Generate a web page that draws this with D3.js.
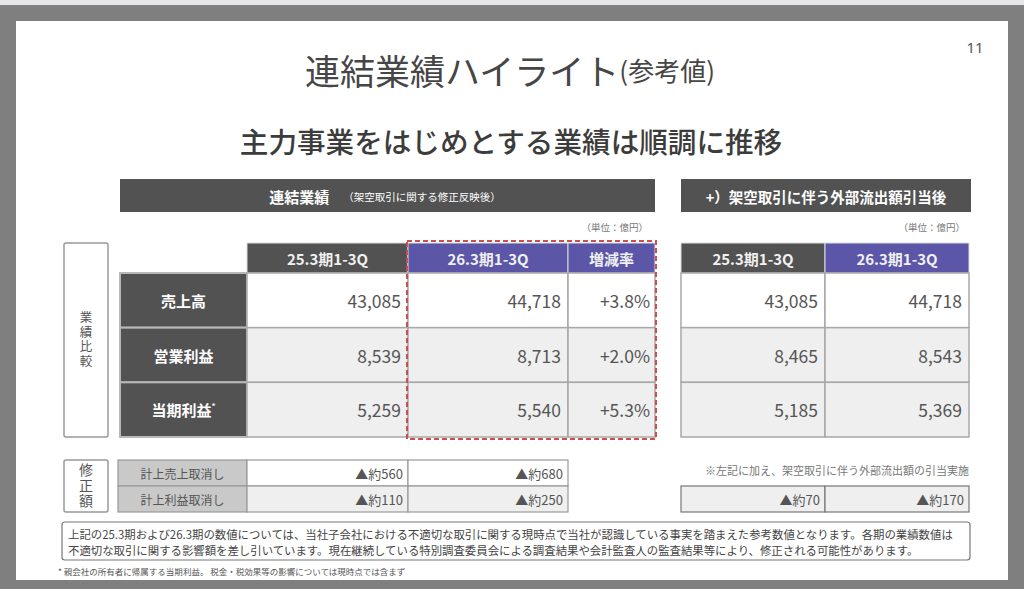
<!DOCTYPE html>
<html>
<head>
<meta charset="utf-8">
<script src="https://cdn.jsdelivr.net/npm/d3@7"></script>
<style>
  body { margin: 0; background: #7f7f7f; overflow: hidden; }
  svg { display: block; font-family: "Noto Sans CJK JP", "Noto Sans", sans-serif; }
</style>
</head>
<body>
<svg id="chart"></svg>
<script>
// data (単位: 億円)
const metrics = ["売上高", "営業利益", "当期利益"];
const periods = ["25.3期1-3Q", "26.3期1-3Q"];
const rateLabel = "増減率";
const consolidated25 = [43085, 8539, 5259];
const consolidated26 = [44718, 8713, 5540];
const changeRate = [3.8, 2.0, 5.3];
const afterProvision25 = [43085, 8465, 5185];
const afterProvision26 = [44718, 8543, 5369];
const adjLabels = ["計上売上取消し", "計上利益取消し"];
const adjust25 = [560, 110];
const adjust26 = [680, 250];
const provision = [70, 170];

const W = 1024, H = 589;
const svg = d3.select("#chart").attr("width", W).attr("height", H);

const dark = "#525252", purple = "#5b56a8", grayRow = "#efefef", line = "#a8a8a8", txt = "#555";
const fmt = d3.format(",");
const fmtRate = v => "+" + d3.format(".1f")(v) + "%";

//frame around the slide
svg.append("rect").attr("width", W).attr("height", H).attr("fill", "#7f7f7f");
svg.append("rect").attr("width", W).attr("height", 5).attr("fill", "#e6e6ea");
svg.append("rect").attr("x", 16).attr("y", 21).attr("width", 992).attr("height", 559).attr("fill", "#fff");

// titles
svg.append("text").attr("x", 975).attr("y", 47).attr("text-anchor", "middle")
    .attr("dominant-baseline", "central").attr("font-family", "'Noto Sans', sans-serif")
    .attr("font-size", 15).attr("fill", txt).text("11");

const title = svg.append("text").attr("x", 510).attr("y", 69).attr("text-anchor", "middle")
    .attr("dominant-baseline", "central").attr("fill", "#464646").attr("font-weight", 400);
title.append("tspan").attr("font-size", 35).text("連結業績ハイライト");
title.append("tspan").attr("font-size", 26).text("(参考値)");

svg.append("text").attr("x", 511).attr("y", 140).attr("text-anchor", "middle")
    .attr("dominant-baseline", "central").attr("font-size", 28.6).attr("font-weight", 500)
    .attr("fill", "#3c3c3c").text("主力事業をはじめとする業績は順調に推移");

// helper for one cell
function cell(g, x, y, w, h, fill, label, opts) {
    opts = opts || {};
    g.append("rect").attr("x", x).attr("y", y).attr("width", w).attr("height", h)
        .attr("fill", fill).attr("stroke", opts.stroke || line).attr("stroke-width", opts.sw || 1.5);
    if (label == null) return;
    const t = g.append("text")
        .attr("x", opts.align === "end" ? x + w - (opts.pad || 7) : x + w / 2)
        .attr("y", y + h / 2 + (opts.dy || 0))
        .attr("text-anchor", opts.align === "end" ? "end" : "middle")
        .attr("dominant-baseline", "central")
        .attr("font-size", opts.size || 17.5)
        .attr("font-weight", opts.weight || 400)
        .attr("fill", opts.color || txt);
    t.text(label);
    return t;
}

// column scales
const leftCols = ["label", ...periods, rateLabel];
const leftW = [127, 161, 160, 87];
const leftEdge = [120, ...d3.cumsum(leftW).map(d => 120 + d)];
const lx = d3.scaleOrdinal().domain(leftCols).range(leftEdge);
const lw = d3.scaleOrdinal().domain(leftCols).range(leftW);
const rx = d3.scaleBand().domain(periods).range([681, 969]);

const headTop = 243, headH = 30;
const rowY = d3.scaleBand().domain(metrics).range([headTop + headH, 437]);
const rowFill = (d, i) => i === 0 ? "#fff" : grayRow;

// header bars
const gHead = svg.append("g");
gHead.append("rect").attr("x", lx("label")).attr("y", 179).attr("width", lx(rateLabel) + lw(rateLabel) - lx("label"))
    .attr("height", 33).attr("fill", dark);
const ht = gHead.append("text").attr("x", 385).attr("y", 196).attr("text-anchor", "middle")
    .attr("dominant-baseline", "central").attr("fill", "#fff");
ht.append("tspan").attr("font-size", 15).attr("font-weight", 700).text("連結業績");
ht.append("tspan").attr("dx", 14).attr("font-size", 10.5).text("（架空取引に関する修正反映後）");

gHead.append("rect").attr("x", 681).attr("y", 179).attr("width", 290).attr("height", 33).attr("fill", dark);
gHead.append("text").attr("x", 826).attr("y", 196).attr("text-anchor", "middle")
    .attr("dominant-baseline", "central").attr("fill", "#fff").attr("font-size", 14.5).attr("font-weight", 700)
    .text("+）架空取引に伴う外部流出額引当後");

[648, 965].forEach(x => svg.append("text").attr("x", x).attr("y", 227).attr("text-anchor", "end")
    .attr("dominant-baseline", "central").attr("font-size", 9.5).attr("fill", "#777").text("（単位：億円）"));

// left table
const gL = svg.append("g");
periods.concat([rateLabel]).forEach((c, i) => {
    cell(gL, lx(c), headTop, lw(c), headH, i === 0 ? dark : purple, c,
        { size: 15, weight: 700, color: "#f0f0f0", stroke: "#ddd", sw: 1 });
});
metrics.forEach((m, i) => {
    const y = rowY(m), h = rowY.bandwidth();
    cell(gL, lx("label"), y, lw("label"), h, dark, null, { stroke: "#b8b8b8", sw: 2 });
    const t = gL.append("text").attr("x", lx("label") + lw("label") / 2).attr("y", y + h / 2)
        .attr("text-anchor", "middle").attr("dominant-baseline", "central")
        .attr("font-size", 15).attr("font-weight", 700).attr("fill", "#fff").text(m);
    if (i === 2) t.append("tspan").attr("font-size", 8).attr("dy", -5).text("*");
    const f = rowFill(m, i);
    cell(gL, lx(periods[0]), y, lw(periods[0]), h, f, fmt(consolidated25[i]), { align: "end" });
    cell(gL, lx(periods[1]), y, lw(periods[1]), h, f, fmt(consolidated26[i]), { align: "end" });
    cell(gL, lx(rateLabel), y, lw(rateLabel), h, f, fmtRate(changeRate[i]), { align: "end", pad: 5 });
});

// red dashed highlight
svg.append("rect").attr("x", lx(periods[1]) - 1).attr("y", headTop - 2)
    .attr("width", lx(rateLabel) + lw(rateLabel) - lx(periods[1]) + 2).attr("height", 437 - headTop + 4)
    .attr("fill", "none").attr("stroke", "#c9504c").attr("stroke-width", 2).attr("stroke-dasharray", "5,3");

// side label boxes, vertical text
function sideBox(y0, y1, chars, size, gap) {
    svg.append("rect").attr("x", 64).attr("y", y0).attr("width", 44).attr("height", y1 - y0)
        .attr("rx", 2).attr("fill", "#fff").attr("stroke", "#999").attr("stroke-width", 1.5);
    svg.append("text").attr("x", 86).attr("y", (y0 + y1) / 2)
        .attr("text-anchor", "middle")
        .style("writing-mode", "vertical-rl").style("text-orientation", "upright")
        .attr("letter-spacing", gap)
        .attr("font-size", size).attr("fill", txt).text(chars);
}
sideBox(headTop, 437, "業績比較", 12.5, 2);
sideBox(460, 512, "修正額", 14, 1.5);

// right table
const gR = svg.append("g");
periods.forEach((p, i) => {
    cell(gR, rx(p), headTop, rx.bandwidth(), headH, i === 0 ? dark : purple, p,
        { size: 15, weight: 700, color: "#f0f0f0", stroke: "#ddd", sw: 1 });
});
metrics.forEach((m, i) => {
    const y = rowY(m), h = rowY.bandwidth(), f = rowFill(m, i);
    cell(gR, rx(periods[0]), y, rx.bandwidth(), h, f, fmt(afterProvision25[i]), { align: "end" });
    cell(gR, rx(periods[1]), y, rx.bandwidth(), h, f, fmt(afterProvision26[i]), { align: "end" });
});

// adjustment table
const adjY = d3.scaleBand().domain(adjLabels).range([460, 512]);
const gA = svg.append("g");
adjLabels.forEach((a, i) => {
    const y = adjY(a), h = adjY.bandwidth(), f = i === 0 ? "#fff" : grayRow;
    cell(gA, lx("label") - 2, y, lw("label") + 2, h, "#c9c9c9", a, { size: 12, color: "#555", stroke: "#999", sw: 1.2 });
    cell(gA, lx(periods[0]), y, lw(periods[0]), h, f, "▲約" + adjust25[i], { align: "end", size: 13, pad: 5, stroke: "#999", sw: 1.2 });
    cell(gA, lx(periods[1]), y, lw(periods[1]), h, f, "▲約" + adjust26[i], { align: "end", size: 13, pad: 5, stroke: "#999", sw: 1.2 });
});

svg.append("text").attr("x", 969).attr("y", 470).attr("text-anchor", "end").attr("dominant-baseline", "central")
    .attr("font-size", 11).attr("fill", "#777").text("※左記に加え、架空取引に伴う外部流出額の引当実施");
periods.forEach((p, i) => {
    cell(gA, rx(p), adjY(adjLabels[1]), rx.bandwidth(), adjY.bandwidth(), grayRow, "▲約" + provision[i],
        { align: "end", size: 13, pad: 5, stroke: "#777", sw: 1.2 });
});

// note box
svg.append("rect").attr("x", 62).attr("y", 522).attr("width", 908).attr("height", 38).attr("rx", 3)
    .attr("fill", "#fff").attr("stroke", "#777").attr("stroke-width", 1.2);
const notes = [
    "上記の25.3期および26.3期の数値については、当社子会社における不適切な取引に関する現時点で当社が認識している事実を踏まえた参考数値となります。各期の業績数値は",
    "不適切な取引に関する影響額を差し引いています。現在継続している特別調査委員会による調査結果や会計監査人の監査結果等により、修正される可能性があります。"
];
notes.forEach((n, i) => {
    svg.append("text").attr("x", 68).attr("y", 534 + i * 16).attr("dominant-baseline", "central")
        .attr("font-size", 11.4).attr("fill", "#444").text(n);
});
svg.append("text").attr("x", 58).attr("y", 571).attr("dominant-baseline", "central")
    .attr("font-size", 8.5).attr("fill", "#555")
    .text("* 親会社の所有者に帰属する当期利益。 税金・税効果等の影響については現時点では含まず");
</script>
</body>
</html>
